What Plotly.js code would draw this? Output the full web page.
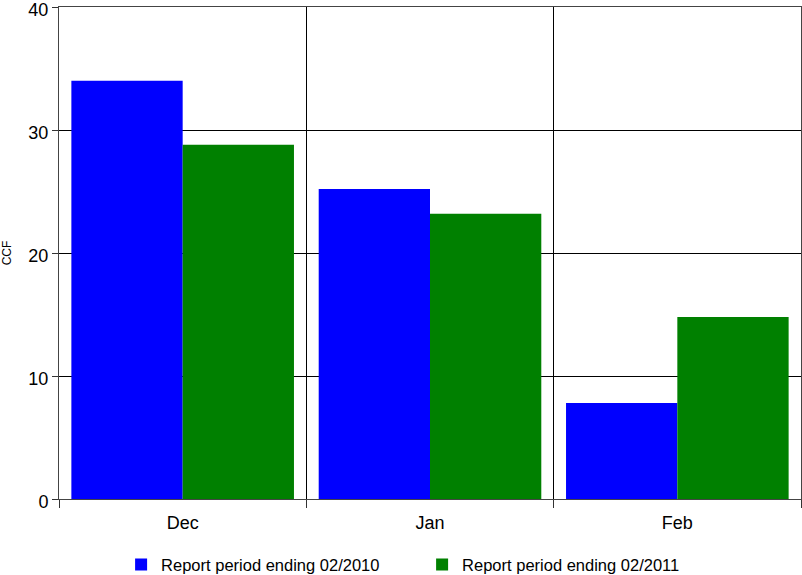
<!DOCTYPE html>
<html><head><meta charset="utf-8">
<script src="https://cdn.plot.ly/plotly-3.0.1.min.js"></script>
<style>html,body{margin:0;padding:0;background:#fff}#c{width:802px;height:575px}</style>
</head><body><div id="c"></div>
<script>
const categories = ["Dec", "Jan", "Feb"];
const series2010 = [34.0, 25.2, 7.8];
const series2011 = [28.8, 23.2, 14.8];
const seriesNames = ["Report period ending 02/2010", "Report period ending 02/2011"];
const yTicks = [0, 10, 20, 30, 40];

const data = [
  {type: "bar", x: categories, y: series2010, name: seriesNames[0], marker: {color: "#0000ff"}},
  {type: "bar", x: categories, y: series2011, name: seriesNames[1], marker: {color: "#008000"}}
];
const layout = {
  width: 802, height: 575,
  margin: {l: 59, r: 1, t: 7, b: 76, pad: 0, autoexpand: false},
  paper_bgcolor: "#fff", plot_bgcolor: "#fff",
  font: {family: "Liberation Sans, Arial, sans-serif", color: "#000"},
  barmode: "group", bargap: 0.1, bargroupgap: 0,
  showlegend: true,
  legend: {orientation: "h", xref: "container", yref: "container",
           x: 0.151, xanchor: "left", y: 0.018, yanchor: "middle",
           font: {size: 16.5, color: "#000"}, entrywidth: 256, entrywidthmode: "pixels",
           itemwidth: 30, tracegroupgap: 0},
  xaxis: {type: "category", tickson: "boundaries", ticks: "outside", ticklen: 8,
          tickcolor: "#333", showgrid: true, gridcolor: "#000", gridwidth: 1,
          showline: true, linecolor: "#444", linewidth: 1, mirror: true,
          ticklabelstandoff: 7,
          tickfont: {size: 18, color: "#000"}, fixedrange: true},
  yaxis: {range: [0, 40], tickvals: yTicks, ticks: "outside", ticklen: 6, tickcolor: "#333",
          showgrid: true, gridcolor: "#000", gridwidth: 1, zeroline: false,
          showline: true, linecolor: "#444", linewidth: 1, mirror: true,
          ticklabeloverflow: "allow", ticklabelshift: 3,
          tickfont: {size: 18, color: "#000"},
          title: {text: "CCF", font: {size: 12, color: "#000"}, standoff: 14}}
};
Plotly.newPlot("c", data, layout, {staticPlot: true, displayModeBar: false});
</script></body></html>
